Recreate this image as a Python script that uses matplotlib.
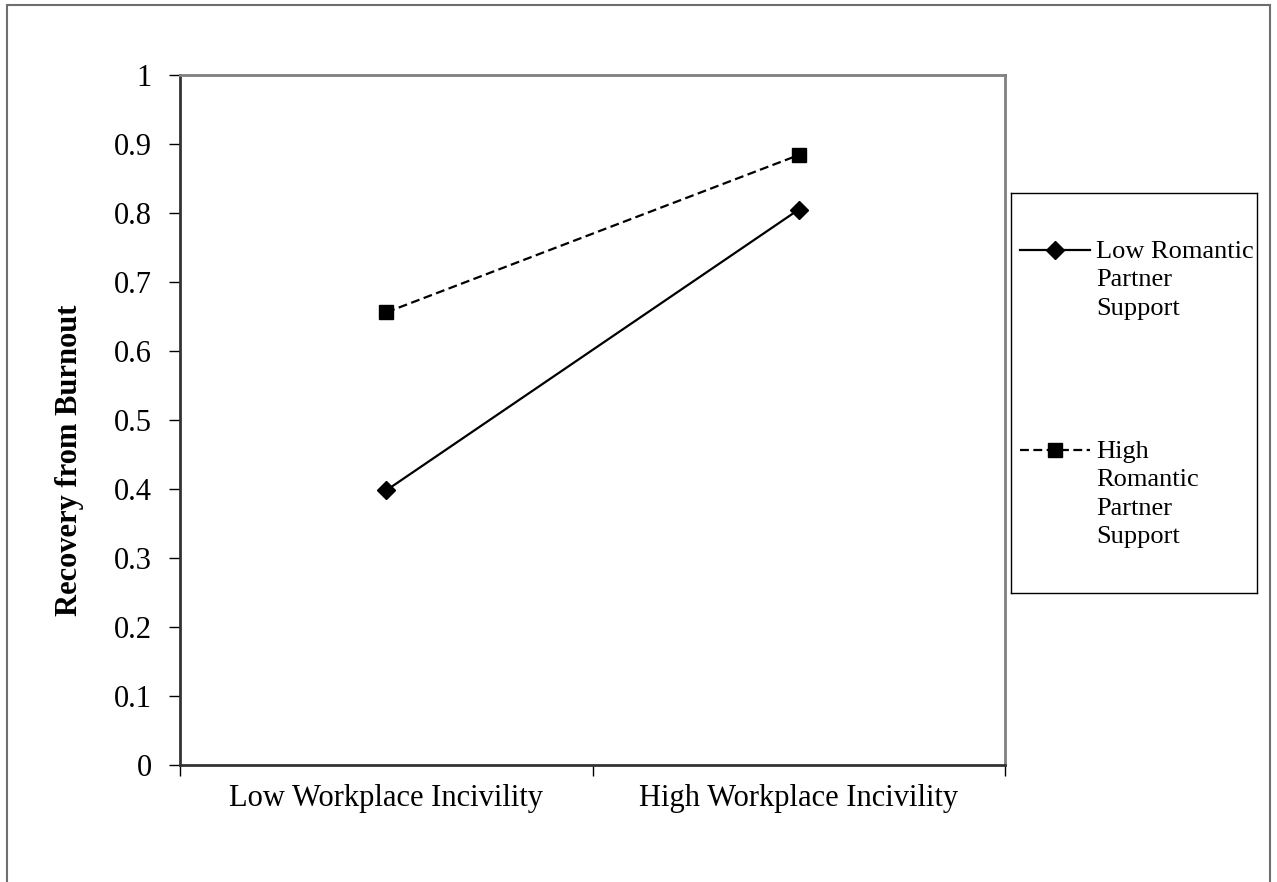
import matplotlib.pyplot as plt
from matplotlib.patches import Rectangle

# ==========================
# Data
# ==========================
categories = ["Low Workplace Incivility", "High Workplace Incivility"]
low_support = [0.398, 0.805]
high_support = [0.656, 0.884]
series_labels = ["Low Romantic\nPartner\nSupport", "High\nRomantic\nPartner\nSupport"]
y_ticks = [0, 0.1, 0.2, 0.3, 0.4, 0.5, 0.6, 0.7, 0.8, 0.9, 1]
y_tick_labels = ["0", "0.1", "0.2", "0.3", "0.4", "0.5", "0.6", "0.7", "0.8", "0.9", "1"]

plt.rcParams['font.family'] = ['Liberation Serif', 'DejaVu Serif']
fs = 22
leg_fs = 19
dash = (0, (4, 2))

fig = plt.figure(figsize=(12.77, 8.82), dpi=100)
W, H = 1277, 882

# outer chart border (bottom edge runs off the image)
fig.patches.append(Rectangle((7 / W, -0.05), (1270 - 7) / W, 1.05 - 5 / H,
                             transform=fig.transFigure, fill=False,
                             edgecolor='#6e6e6e', lw=1.5))

# ==========================
# Main plot
# ==========================
ax = fig.add_axes([180 / W, 1 - 765 / H, (1005 - 180) / W, (765 - 75) / H])
x = [0.5, 1.5]
ax.plot(x, low_support, color='black', lw=1.6, marker='D', markersize=9,
        label=series_labels[0])
ax.plot(x, high_support, color='black', lw=1.6, ls=dash, marker='s',
        markersize=10.5, label=series_labels[1])

ax.set_xlim(0, 2)
ax.set_ylim(0, 1)
ax.set_yticks(y_ticks)
ax.set_yticklabels(y_tick_labels, fontsize=fs)
ax.set_xticks([0, 1, 2])
ax.set_xticklabels([])
ax.set_xticks(x, minor=True)
ax.set_xticklabels(categories, minor=True, fontsize=fs)
ax.tick_params(axis='x', which='minor', length=0, pad=13.5)
ax.tick_params(axis='both', which='major', length=8, width=1, direction='out',
               color='black')
ax.tick_params(axis='y', which='major', pad=12.5)

for side in ['left', 'bottom']:
    ax.spines[side].set_color('#333333')
    ax.spines[side].set_linewidth(2)
for side in ['top', 'right']:
    ax.spines[side].set_color('#808080')
    ax.spines[side].set_linewidth(2)

ax.set_ylabel("Recovery from Burnout", fontsize=fs, fontweight='bold')
ax.yaxis.set_label_coords((84 - 180) / 825, 0.442)

# ==========================
# Legend box
# ==========================
lax = fig.add_axes([1011 / W, 1 - 593 / H, (1257 - 1011) / W, (593 - 193) / H])
lax.set_xlim(0, 1)
lax.set_ylim(0, 1)
lax.set_xticks([])
lax.set_yticks([])
for s in lax.spines.values():
    s.set_color('black')
    s.set_linewidth(1)

entry_y = [0.8575, 0.3575]
text_top = [0.88, 0.38]
styles = [dict(ls='-', marker='D', markersize=9), dict(ls=dash, marker='s', markersize=10.5)]
for yy, ty, lab, st in zip(entry_y, text_top, series_labels, styles):
    lax.plot([0.037, 0.179, 0.321], [yy, yy, yy], color='black', lw=1.6,
             markevery=[1], **st)
    lax.text(0.3455, ty, lab, fontsize=leg_fs, va='top', ha='left',
             linespacing=1.38)

fig.savefig("out.png", dpi=100)
